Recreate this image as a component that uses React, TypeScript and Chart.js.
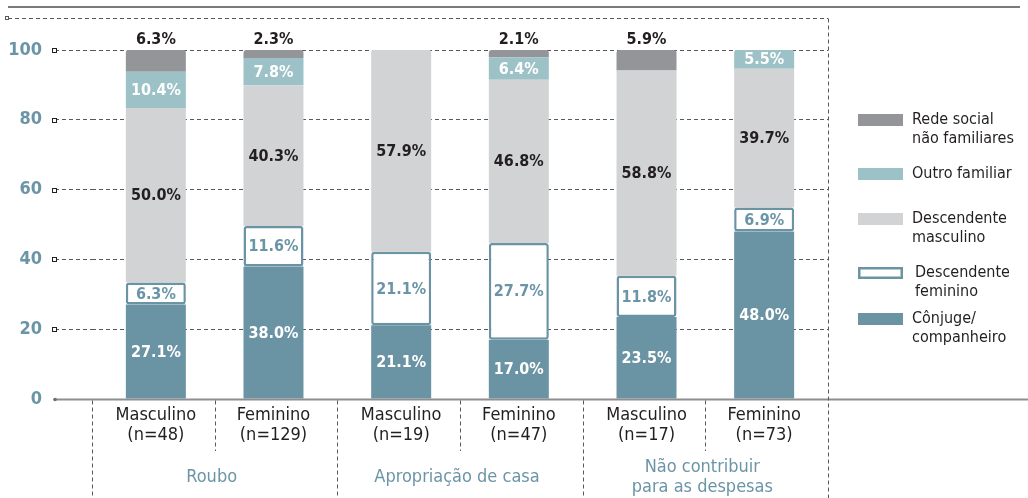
import React, { useEffect, useRef } from "react";
import { Chart, registerables } from "chart.js";

Chart.register(...registerables);

// ---------- data ----------
const groupLabels: string[][] = [["Roubo"], ["Apropriação de casa"], ["Não contribuir", "para as despesas"]];
const sexLabels = ["Masculino", "Feminino"];
const nMasculino = [48, 19, 17];
const nFeminino = [129, 47, 73];

const conjugeM = [27.1, 21.1, 23.5];
const conjugeF = [38.0, 17.0, 48.0];
const descFemM = [6.3, 21.1, 11.8];
const descFemF = [11.6, 27.7, 6.9];
const descMascM = [50.0, 57.9, 58.8];
const descMascF = [40.3, 46.8, 39.7];
const outroM = [10.4, 0, 0];
const outroF = [7.8, 6.4, 5.5];
const redeM = [6.3, 0, 5.9];
const redeF = [2.3, 2.1, 0];

const yTicks = [0, 20, 40, 60, 80, 100];

const legendNames: string[][] = [
  ["Rede social", "não familiares"],
  ["Outro familiar"],
  ["Descendente", "masculino"],
  ["Descendente", "feminino"],
  ["Cônjuge/", "companheiro"],
];

// ---------- styles ----------
const CF = "'Liberation Sans Narrow', 'DejaVu Sans Condensed', 'Arial Narrow', sans-serif";
const DARK = "#231f20";
const TEAL = "#6a93a3";
const TEAL_TXT = "#6b95a6";
const C_REDE = "#939598";
const C_OUTRO = "#9cc2c7";
const C_DMASC = "#d1d3d4";
const GRID = "#58595b";

type Series = {
  key: string;
  m: number[];
  f: number[];
  bg: string;
  border: string;
  bw: number;
  txt: string;
  above?: boolean;
};

const series: Series[] = [
  { key: "conjuge", m: conjugeM, f: conjugeF, bg: TEAL, border: TEAL, bw: 0, txt: "#ffffff" },
  { key: "descFem", m: descFemM, f: descFemF, bg: "#ffffff", border: TEAL, bw: 2.5, txt: TEAL_TXT },
  { key: "descMasc", m: descMascM, f: descMascF, bg: C_DMASC, border: C_DMASC, bw: 0, txt: DARK },
  { key: "outro", m: outroM, f: outroF, bg: C_OUTRO, border: C_OUTRO, bw: 0, txt: "#ffffff" },
  { key: "rede", m: redeM, f: redeF, bg: C_REDE, border: C_REDE, bw: 0, txt: DARK, above: true },
];

const legendOrder = ["rede", "outro", "descMasc", "descFem", "conjuge"];
const legendBoxTops = [114, 168, 213, 267, 313];

function buildDatasets() {
  const out: any[] = [];
  series.forEach((s) => {
    [
      { stack: "M", vals: s.m },
      { stack: "F", vals: s.f },
    ].forEach((part) => {
      out.push({
        label: s.key + "_" + part.stack,
        seriesKey: s.key,
        stack: part.stack,
        data: part.vals.map((v) => (v === 0 ? null : v)),
        backgroundColor: s.bg,
        borderColor: s.border,
        borderWidth: s.bw,
        borderSkipped: s.bw > 0 ? false : "start",
        borderRadius: s.bw > 0 ? { topLeft: 3, topRight: 3, bottomLeft: 3, bottomRight: 3 } : 3,
        categoryPercentage: 0.959,
        barPercentage: 0.51,
      });
    });
  });
  return out;
}

const decorPlugin = {
  id: "decor",
  beforeDraw(chart: any) {
    const ctx = chart.ctx;
    const area = chart.chartArea;
    ctx.save();
    // top solid rule
    ctx.strokeStyle = "#7a7b7d";
    ctx.lineWidth = 2;
    ctx.beginPath();
    ctx.moveTo(8, 7);
    ctx.lineTo(1020, 7);
    ctx.stroke();
    // top dashed line
    ctx.strokeStyle = GRID;
    ctx.lineWidth = 1;
    ctx.setLineDash([4, 3]);
    ctx.beginPath();
    ctx.moveTo(8, 18.5);
    ctx.lineTo(area.right, 18.5);
    ctx.stroke();
    ctx.setLineDash([]);
    ctx.fillStyle = "#ffffff";
    ctx.strokeStyle = GRID;
    ctx.fillRect(5.5, 16.5, 3, 3);
    ctx.strokeRect(5.5, 16.5, 3, 3);
    ctx.restore();
  },
  afterDatasetsDraw(chart: any) {
    const ctx = chart.ctx;
    const area = chart.chartArea;
    const xs = chart.scales.x;
    const ys = chart.scales.y;
    ctx.save();

    // baseline
    const by = Math.round(ys.getPixelForValue(0)) + 0.5;
    ctx.strokeStyle = "#8d8e90";
    ctx.lineWidth = 2;
    ctx.beginPath();
    ctx.moveTo(55, by);
    ctx.lineTo(1028, by);
    ctx.stroke();

    // tick markers
    ctx.lineWidth = 1;
    yTicks.forEach((t) => {
      const py = Math.round(ys.getPixelForValue(t)) + 0.5;
      if (t === 0) {
        ctx.fillStyle = "#6d6e71";
        ctx.beginPath();
        ctx.arc(55, by, 1.8, 0, Math.PI * 2);
        ctx.fill();
      } else {
        ctx.fillStyle = "#ffffff";
        ctx.strokeStyle = DARK;
        ctx.fillRect(52.5, py - 2, 4, 4);
        ctx.strokeRect(52.5, py - 2, 4, 4);
      }
    });

    // vertical dividers
    ctx.strokeStyle = GRID;
    ctx.lineWidth = 1;
    ctx.setLineDash([4, 3]);
    const n = groupLabels.length;
    const step = (area.right - area.left) / n;
    for (let i = 0; i <= n; i++) {
      const px = Math.round(area.left + step * i) + 0.5;
      ctx.beginPath();
      ctx.moveTo(px, i === n ? 18.5 : by + 1);
      ctx.lineTo(px, 498);
      ctx.stroke();
    }
    for (let i = 0; i < n; i++) {
      const px = Math.round(xs.getPixelForValue(i)) + 0.5;
      ctx.beginPath();
      ctx.moveTo(px, by + 1);
      ctx.lineTo(px, 451);
      ctx.stroke();
    }
    ctx.setLineDash([]);

    // value labels
    chart.data.datasets.forEach((ds: any, di: number) => {
      const s = series.find((q) => q.key === ds.seriesKey)!;
      const meta = chart.getDatasetMeta(di);
      meta.data.forEach((el: any, i: number) => {
        const v = ds.data[i];
        if (v == null) return;
        const p = el.getProps(["x", "y", "base"], true);
        const txt = v.toFixed(1) + "%";
        ctx.font = `bold 16px ${CF}`;
        ctx.textAlign = "center";
        ctx.fillStyle = s.txt;
        if (s.above) {
          ctx.textBaseline = "alphabetic";
          ctx.fillText(txt, p.x, Math.min(p.y, area.top) - 6);
        } else {
          ctx.textBaseline = "middle";
          ctx.fillText(txt, p.x, (p.y + p.base) / 2 + 1);
        }
      });
    });

    // sub labels (sex + n)
    const mMeta = chart.getDatasetMeta(0);
    const fMeta = chart.getDatasetMeta(1);
    ctx.fillStyle = DARK;
    ctx.font = `18px ${CF}`;
    ctx.textAlign = "center";
    ctx.textBaseline = "middle";
    for (let i = 0; i < n; i++) {
      const mx = mMeta.data[i].x;
      const fx = fMeta.data[i].x;
      ctx.fillText(sexLabels[0], mx, 415);
      ctx.fillText("(n=" + nMasculino[i] + ")", mx, 435);
      ctx.fillText(sexLabels[1], fx, 415);
      ctx.fillText("(n=" + nFeminino[i] + ")", fx, 435);
    }

    // group labels
    ctx.fillStyle = TEAL_TXT;
    ctx.font = `18px ${CF}`;
    for (let i = 0; i < n; i++) {
      const gx = xs.getPixelForValue(i) - 3;
      const lines = groupLabels[i];
      if (lines.length === 1) {
        ctx.fillText(lines[0], gx, 477);
      } else {
        lines.forEach((l, k) => ctx.fillText(l, gx, 467 + k * 20));
      }
    }

    // legend
    ctx.textAlign = "left";
    ctx.textBaseline = "middle";
    legendOrder.forEach((key, k) => {
      const s = series.find((q) => q.key === key)!;
      const top = legendBoxTops[k];
      if (s.bw > 0) {
        ctx.fillStyle = "#ffffff";
        ctx.fillRect(858, top, 45, 12);
        ctx.strokeStyle = s.border;
        ctx.lineWidth = 2.5;
        ctx.strokeRect(859.25, top + 1.25, 42.5, 9.5);
      } else {
        ctx.fillStyle = s.bg;
        ctx.fillRect(858, top, 45, 12);
      }
      ctx.fillStyle = DARK;
      ctx.font = `16px ${CF}`;
      const tx = s.bw > 0 ? 915 : 912;
      legendNames[k].forEach((l, j) => ctx.fillText(l, tx, top + 6 + j * 19));
    });

    ctx.restore();
  },
};

export default function App() {
  const ref = useRef<HTMLCanvasElement | null>(null);
  useEffect(() => {
    if (!ref.current) return;
    const chart = new Chart(ref.current, {
      type: "bar",
      data: {
        labels: groupLabels.map((g) => g.join(" ")),
        datasets: buildDatasets(),
      },
      options: {
        responsive: false,
        animation: false,
        devicePixelRatio: 1,
        layout: { padding: { top: 50, right: 200, bottom: 99, left: 0 } },
        plugins: {
          legend: { display: false },
          tooltip: { enabled: false },
        },
        scales: {
          x: {
            display: false,
            stacked: true,
          },
          y: {
            stacked: true,
            min: 0,
            max: 100,
            afterFit: (scale: any) => {
              scale.width = 92;
            },
            ticks: {
              stepSize: 20,
              padding: 13,
              color: TEAL_TXT,
              font: { family: CF, size: 18, weight: "bold" },
            },
            grid: {
              color: GRID,
              lineWidth: 1,
              drawTicks: true,
              tickLength: 37,
              tickColor: GRID,
              tickBorderDash: [4, 3],
            },
            border: { display: false, dash: [4, 3] },
          },
        },
      } as any,
      plugins: [decorPlugin],
    });
    return () => chart.destroy();
  }, []);

  return (
    <div style={{ position: "absolute", left: 0, top: 0, width: 1028, height: 498, background: "#fff" }}>
      <canvas ref={ref} width={1028} height={498} style={{ display: "block" }} />
    </div>
  );
}
